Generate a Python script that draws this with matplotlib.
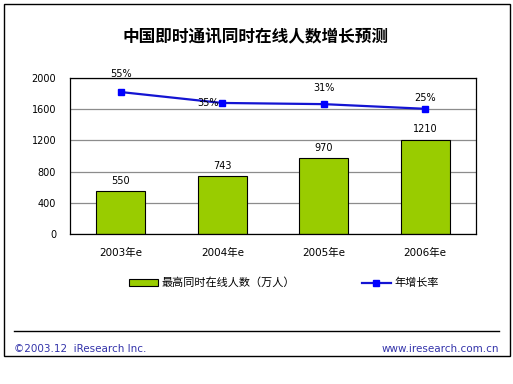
import matplotlib

matplotlib.use("Agg")
import matplotlib.pyplot as plt
from matplotlib.lines import Line2D
from matplotlib.patches import Rectangle

plt.rcParams["font.family"] = ["DejaVu Sans", "Noto Sans CJK SC"]

TITLE = "中国即时通讯同时在线人数增长预测"
years = ["2003年e", "2004年e", "2005年e", "2006年e"]
online_users = [550, 743, 970, 1210]          # 最高同时在线人数（万人）
growth_labels = ["55%", "35%", "31%", "25%"]  # 年增长率
growth_line_pos = [1820, 1680, 1665, 1605]    # line height as drawn on the value axis
y_ticks = [0, 400, 800, 1200, 1600, 2000]

BAR_GREEN = "#99CC00"
LINE_BLUE = "#1414D2"
MARK_BLUE = "#0000FF"
FOOT_BLUE = "#3333AA"

W, H = 513, 384
fig = plt.figure(figsize=(W / 100, H / 100), dpi=100)

# outer frame
fig.patches.append(Rectangle((4 / W, 1 - 356 / H), 506 / W, 352 / H,
                             transform=fig.transFigure, fill=False,
                             edgecolor="black", linewidth=1.0))

fig.text(256 / W, 1 - 37 / H, TITLE, ha="center", va="center",
         fontsize=12, fontweight="bold", family=["Noto Sans CJK SC"])

ax = fig.add_axes([70 / W, 1 - 234 / H, 406 / W, 156 / H])
x = list(range(len(years)))
bars = ax.bar(x, online_users, width=0.48, color=BAR_GREEN,
              edgecolor="black", linewidth=0.8, zorder=2)
line, = ax.plot(x, growth_line_pos, color=LINE_BLUE, linewidth=1.6,
                marker="s", markersize=4.5, markerfacecolor=MARK_BLUE,
                markeredgecolor=MARK_BLUE, zorder=3)

for xi, v in zip(x, online_users):
    ax.text(xi, v + 70, f"{v}", ha="center", va="bottom", fontsize=7)

label_offsets = [(0, 230), (-0.14, 0), (0, 205), (0, 140)]
for xi, yp, lab, (dx, dy) in zip(x, growth_line_pos, growth_labels, label_offsets):
    ax.text(xi + dx, yp + dy, lab, ha="center", va="center", fontsize=7,
            zorder=4)

ax.set_xlim(-0.5, len(years) - 0.5)
ax.set_ylim(0, 2000)
ax.set_yticks(y_ticks)
ax.set_yticklabels([str(t) for t in y_ticks], fontsize=7)
ax.set_xticks(x)
ax.set_xticklabels(years, fontsize=7.5)
ax.tick_params(axis="both", length=0, pad=10)
ax.tick_params(axis="y", pad=10)
ax.yaxis.grid(True, color="#8C8C8C", linewidth=0.9, zorder=0)
ax.set_axisbelow(True)
for sp in ax.spines.values():
    sp.set_linewidth(0.9)

handles = [
    Rectangle((0, 0), 1, 1, facecolor=BAR_GREEN, edgecolor="black", linewidth=0.8),
    Line2D([], [], color=LINE_BLUE, linewidth=1.6, marker="s", markersize=4.5,
           markerfacecolor=MARK_BLUE, markeredgecolor=MARK_BLUE),
]
fig.legend(handles, ["最高同时在线人数（万人）", "年增长率"], loc="center",
           bbox_to_anchor=(284 / W, 1 - 283 / H), ncol=2, frameon=False,
           handlelength=2.6, handleheight=0.6,
           columnspacing=6.0, handletextpad=0.3,
           prop={"family": ["Noto Sans CJK SC"], "size": 8})

fig.lines.append(Line2D([14 / W, 499 / W], [1 - 331 / H, 1 - 331 / H],
                        transform=fig.transFigure, color="black", linewidth=1.0))
fig.text(14 / W, 1 - 349 / H, "©2003.12  iResearch Inc.", ha="left",
         va="center", fontsize=7.5, color=FOOT_BLUE)
fig.text(499 / W, 1 - 349 / H, "www.iresearch.com.cn", ha="right",
         va="center", fontsize=7.5, color=FOOT_BLUE)

fig.savefig("out.png", dpi=100)
